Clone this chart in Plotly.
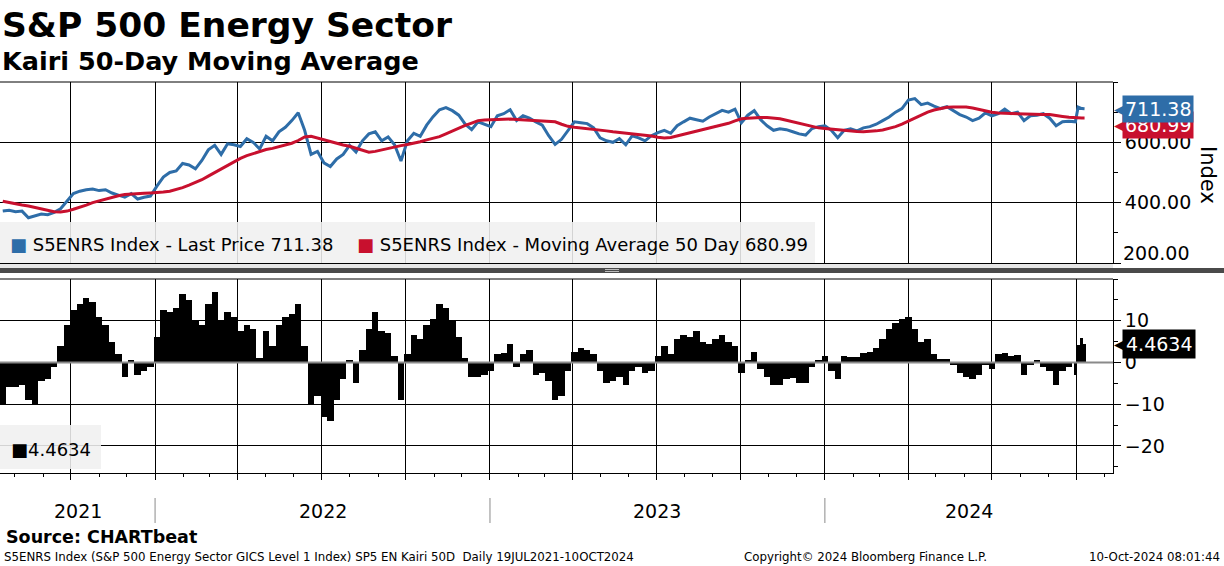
import pandas as pd
import plotly.graph_objects as go

# ---------------- data (weekly readings of the reference) ----------------
weekly = pd.date_range("2021-07-19", "2024-09-30", freq="7D")
extra = pd.to_datetime(["2024-10-03", "2024-10-07", "2024-10-10"])
dates = weekly.append(extra)

price = [
    # 2021
    372, 375,
    370, 372, 350, 355, 362,
    360, 368, 380, 405,
    430, 438, 443, 445,
    440, 443, 432, 425, 418,
    430, 412, 418, 422,
    # 2022
    455, 485, 500, 505, 530,
    525, 512, 540, 575,
    590, 560, 595, 592,
    586, 612, 600, 578,
    620, 605, 635, 650, 672,
    698, 640, 560, 570,
    532, 520, 545, 560,
    590, 568, 605, 628, 635,
    605, 618, 592, 538,
    605, 630, 620, 657, 685,
    708, 715, 705, 690,
    660, 642, 668, 660,
    # 2023
    652, 688, 695, 708, 672,
    688, 680, 668, 657,
    622, 593, 610, 640,
    668, 665, 662, 648,
    615, 605, 600, 612, 592,
    622, 615, 605, 622,
    632, 640, 630, 655, 668,
    680, 675, 670, 684,
    695, 706, 700, 710,
    665, 690, 705, 675, 655,
    640, 645, 642, 635,
    628, 624, 646, 652,
    # 2024
    655, 640, 615, 640, 645,
    638, 648, 652, 660,
    672, 684, 700, 712,
    740, 745, 725, 730, 720,
    712, 718, 705, 692,
    684, 672, 680, 698,
    688, 695, 710, 695, 700,
    672, 688, 690, 695,
    680, 655, 668, 670, 668,
    717, 712, 711.38,
]

ma50 = [
    # 2021
    405, 400,
    396, 392, 389, 384, 378,
    374, 370, 369, 372,
    378, 384, 392, 400,
    406, 411, 418, 423, 427,
    429, 430, 431, 432,
    # 2022
    433, 435, 438, 443, 450,
    458, 466, 476, 488,
    500, 512, 524, 536,
    547, 556, 563, 570,
    576, 580, 585, 591, 597,
    606, 618, 620, 614,
    608, 603, 597, 591,
    587, 580, 573, 567, 570,
    575, 580, 586, 589,
    593, 597, 602, 608, 613,
    619, 628, 638, 646,
    656, 664, 672, 674,
    # 2023
    675, 676, 676, 677, 676,
    675, 673, 671, 670,
    669, 668, 660, 653,
    650, 648, 646, 644,
    641, 638, 635, 633, 630,
    627, 625, 623, 621,
    617, 614, 616, 621, 628,
    632, 636, 641, 646,
    651, 657, 663, 671,
    678, 680, 682, 682, 682,
    681, 678, 673, 668,
    662, 657, 651, 648,
    # 2024
    646, 644, 641, 638, 637,
    636, 635, 636, 638,
    641, 646, 652, 660,
    670, 682, 692, 700, 707,
    712, 716, 717, 717,
    717, 714, 709, 705,
    700, 697, 696, 695, 694,
    693, 692, 692, 692,
    692, 690, 686, 683, 681,
    681, 681, 680.99,
]

kairi = [
    # 2021
    -10, -6,
    -6, -5.5, -9, -10, -4.5,
    -4, -1, 4, 9,
    12.5, 14, 15.5, 14.5,
    11, 9, 5, 2, -3.5,
    0.5, -3, -2, -1,
    # 2022
    6, 12.5, 12, 13, 16.5,
    15, 10, 9, 14,
    17, 10, 12, 11,
    7.5, 9, 8, 1,
    7.5, 4, 9, 11, 11.5,
    14, 4, -10, -8,
    -13, -14, -9, -4,
    0.5, -5, 3, 8, 12,
    7.5, 7, 1.5, -9,
    2, 6.5, 5.5, 9, 10.5,
    14, 13, 10, 6,
    1, -3.5, -3.5, -3,
    # 2023
    -2, 2, 2.2, 4.5, -1,
    2, 3, -3, -2.5,
    -4.5, -9, -8, -2,
    2.5, 3.5, 3, 2,
    -2, -5, -4.5, -3.5, -5.5,
    -2, -1, -2.5, -2,
    1.5, 4, 2, 5.5, 6.5,
    6, 7.5, 5, 4.5,
    5.5, 6.5, 5, 4,
    -2.5, 0.5, 2.5, -1.5, -3.5,
    -5.5, -5.5, -4, -3.8,
    -5, -5, -1, 0.5,
    # 2024
    1.5, -2, -4, 1.5, 1.2,
    1.2, 2.2, 2.5, 3.5,
    5.5, 8, 9.5, 10.5,
    11, 8, 5, 5.5, 2,
    0.8, 0.8, -0.5, -2.5,
    -3.5, -4, -3, -0.5,
    -1.5, 2, 2.2, 1.5, 1.8,
    -3, -0.5, 0.5, -1,
    -2, -5.5, -2, -1, -3,
    4.2, 5.8, 4.4634,
]

last_price = 711.38
last_ma = 680.99
last_kairi = 4.4634

price_ticks = [200, 400, 600]
price_minor = [300, 500, 700, 800]
kairi_ticks = [-20, -10, 0, 10]
kairi_minor = [-25, -15, -5, 5, 15, 20]
years = [2021, 2022, 2023, 2024]

x_start, x_end = pd.Timestamp("2021-07-16"), pd.Timestamp("2024-11-10")

# ---------------- styling ----------------
BLUE = "#2e6da8"
RED = "#c8102e"
FONT = "DejaVu Sans"
W, H = 1224, 566
ML, MR, MT, MB = 0, 111, 82, 93
PW, PH = W - ML - MR, H - MT - MB


def px_x(px):
    return (px - ML) / PW


def px_y(py):
    return (H - MB - py) / PH


# bar widths from the spacing of the dates
widths = []
for i in range(len(dates)):
    if i < len(dates) - 1:
        d = dates[i + 1] - dates[i]
    else:
        d = dates[i] - dates[i - 1]
    widths.append(d.total_seconds() * 1000)

fig = go.Figure()
fig.add_trace(go.Scatter(x=dates, y=price, mode="lines",
                         line=dict(color=BLUE, width=3), xaxis="x", yaxis="y"))
fig.add_trace(go.Scatter(x=dates, y=ma50, mode="lines",
                         line=dict(color=RED, width=3), xaxis="x", yaxis="y"))
fig.add_trace(go.Bar(x=dates, y=kairi, width=widths,
                     marker=dict(color="black", line=dict(width=0)),
                     xaxis="x2", yaxis="y2"))

top_dom = [px_y(263), 1.0]
bot_dom = [0.0, px_y(279)]

xcommon = dict(type="date", range=[x_start, x_end], showgrid=True,
               gridcolor="black", gridwidth=1, dtick="M3", tick0="2021-01-01",
               zeroline=False, showline=True, linecolor="black", linewidth=1)

# the lowest price label sits just above its tick in the reference
price_ticktext = ["" if v == min(price_ticks) else f"{v:.2f}" for v in price_ticks]

fig.update_layout(
    width=W, height=H,
    margin=dict(l=ML, r=MR, t=MT, b=MB, pad=0),
    paper_bgcolor="white", plot_bgcolor="white",
    showlegend=False, bargap=0,
    font=dict(family=FONT, color="black"),
    xaxis=dict(**xcommon, anchor="y", showticklabels=False, ticks=""),
    xaxis2=dict(**xcommon, anchor="y2", matches="x", showticklabels=False,
                ticks="outside", ticklen=6, tickcolor="black",
                minor=dict(dtick="M1", ticks="outside", ticklen=3,
                           tickcolor="black", showgrid=False)),
    yaxis=dict(domain=top_dom, side="right", range=[200, 800],
               tickmode="array", tickvals=price_ticks, ticktext=price_ticktext,
               ticks="outside", ticklen=7, tickcolor="black",
               minor=dict(tickvals=price_minor, ticks="outside", ticklen=4,
                          tickcolor="black", showgrid=False),
               showgrid=True, gridcolor="black", zeroline=False,
               showline=True, linecolor="black",
               tickfont=dict(size=19, family=FONT), anchor="x"),
    yaxis2=dict(domain=bot_dom, side="right", range=[-26.5, 20],
                tickmode="array", tickvals=kairi_ticks,
                ticks="outside", ticklen=7, tickcolor="black",
                minor=dict(tickvals=kairi_minor, ticks="outside", ticklen=4,
                           tickcolor="black", showgrid=False),
                showgrid=True, gridcolor="black", zeroline=False,
                showline=True, linecolor="black",
                tickfont=dict(size=19, family=FONT), anchor="x2"),
)

shapes = []
# top borders of both panels
shapes.append(dict(type="line", xref="paper", yref="y domain", x0=0, x1=1,
                   y0=1, y1=1, line=dict(color="black", width=1)))
shapes.append(dict(type="line", xref="paper", yref="y2 domain", x0=0, x1=1,
                   y0=1, y1=1, line=dict(color="black", width=1)))
# zero line of the Kairi panel
shapes.append(dict(type="line", xref="paper", yref="y2", x0=0, x1=1,
                   y0=0, y1=0, line=dict(color="#8a8a8a", width=2), layer="above"))
# separator between panels
shapes.append(dict(type="rect", xref="paper", yref="paper",
                   x0=px_x(0), x1=px_x(1113), y0=px_y(268), y1=px_y(264),
                   fillcolor="#e6e6e6", line=dict(width=0), layer="above"))
shapes.append(dict(type="rect", xref="paper", yref="paper",
                   x0=px_x(0), x1=px_x(W), y0=px_y(273), y1=px_y(268),
                   fillcolor="#4a4a4a", line=dict(width=0), layer="above"))
shapes.append(dict(type="line", xref="paper", yref="paper",
                   x0=px_x(605), x1=px_x(619), y0=px_y(269.5), y1=px_y(269.5),
                   line=dict(color="#bbbbbb", width=1), layer="above"))
shapes.append(dict(type="line", xref="paper", yref="paper",
                   x0=px_x(605), x1=px_x(619), y0=px_y(271.5), y1=px_y(271.5),
                   line=dict(color="#bbbbbb", width=1), layer="above"))
# legend boxes
shapes.append(dict(type="rect", xref="paper", yref="paper",
                   x0=px_x(0), x1=px_x(815), y0=px_y(263), y1=px_y(222),
                   fillcolor="rgba(240,240,240,0.88)", line=dict(width=0), layer="above"))
shapes.append(dict(type="rect", xref="paper", yref="paper",
                   x0=px_x(0), x1=px_x(101), y0=px_y(469), y1=px_y(425),
                   fillcolor="rgba(240,240,240,0.88)", line=dict(width=0), layer="above"))
# year separators
for yr in years[1:]:
    d = pd.Timestamp(f"{yr}-01-01")
    shapes.append(dict(type="line", xref="x2", yref="paper", x0=d, x1=d,
                       y0=px_y(498), y1=px_y(523),
                       line=dict(color="#8a8a8a", width=1)))
fig.update_layout(shapes=shapes)

ann = []
ann.append(dict(text="<b>S&P 500 Energy Sector</b>", x=px_x(0), y=px_y(25),
                xref="paper", yref="paper", xanchor="left", yanchor="middle",
                showarrow=False, font=dict(size=34.5, family=FONT)))
ann.append(dict(text="<b>Kairi 50-Day Moving Average</b>", x=px_x(0), y=px_y(61),
                xref="paper", yref="paper", xanchor="left", yanchor="middle",
                showarrow=False, font=dict(size=25.5, family=FONT)))
ann.append(dict(text=f"<span style='color:{BLUE}'>■</span> S5ENRS Index - Last Price {last_price:.2f}",
                x=px_x(8), y=px_y(245), xref="paper", yref="paper",
                xanchor="left", yanchor="middle", showarrow=False,
                font=dict(size=18, family=FONT)))
ann.append(dict(text=f"<span style='color:{RED}'>■</span> S5ENRS Index - Moving Average 50 Day {last_ma:.2f}",
                x=px_x(355), y=px_y(245), xref="paper", yref="paper",
                xanchor="left", yanchor="middle", showarrow=False,
                font=dict(size=18, family=FONT)))
ann.append(dict(text=f"■{last_kairi:.4f}", x=px_x(9), y=px_y(449),
                xref="paper", yref="paper", xanchor="left", yanchor="middle",
                showarrow=False, font=dict(size=18, family=FONT)))
# lowest price label, lifted above its tick
ann.append(dict(text=f"{min(price_ticks):.2f}", x=px_x(1121), y=min(price_ticks),
                xref="paper", yref="y", xanchor="left", yanchor="bottom",
                yshift=-3, showarrow=False, font=dict(size=19, family=FONT)))
# value tags on the right axis (pointer + box)
for val, col, yref, shift in [(last_ma, RED, "y", -7), (last_price, BLUE, "y", 0),
                              (last_kairi, "black", "y2", 0)]:
    ann.append(dict(text="◀", x=px_x(1112), y=val, yshift=shift, xref="paper",
                    yref=yref, xanchor="left", yanchor="middle", showarrow=False,
                    font=dict(size=17, family=FONT, color=col)))
    txt = f"{val:.4f}" if yref == "y2" else f"{val:.2f}"
    ann.append(dict(text=txt, x=px_x(1122), y=val, yshift=shift,
                    xref="paper", yref=yref, xanchor="left", yanchor="middle",
                    showarrow=False, bgcolor=col, borderpad=3 if yref == "y2" else 2,
                    font=dict(size=19, family=FONT, color="white")))
ann.append(dict(text="Index", x=px_x(1208), y=px_y(175), xref="paper", yref="paper",
                textangle=90, xanchor="center", yanchor="middle", showarrow=False,
                font=dict(size=21, family=FONT)))
# year labels, centred on the visible part of each year
for yr in years:
    a = max(pd.Timestamp(f"{yr}-01-01"), x_start)
    b = min(pd.Timestamp(f"{yr + 1}-01-01"), x_end)
    ann.append(dict(text=str(yr), x=a + (b - a) / 2, y=px_y(511), xref="x2",
                    yref="paper", xanchor="center", yanchor="middle",
                    showarrow=False, font=dict(size=19, family=FONT)))
ann.append(dict(text="<b>Source: CHARTbeat</b>", x=px_x(4), y=px_y(537),
                xref="paper", yref="paper", xanchor="left", yanchor="middle",
                showarrow=False, font=dict(size=17.5, family=FONT)))
ann.append(dict(text="S5ENRS Index (S&P 500 Energy Sector GICS Level 1 Index) SP5 EN Kairi 50D  Daily 19JUL2021-10OCT2024",
                x=px_x(2), y=px_y(557), xref="paper", yref="paper",
                xanchor="left", yanchor="middle", showarrow=False,
                font=dict(size=11.8, family=FONT)))
ann.append(dict(text="Copyright© 2024 Bloomberg Finance L.P.", x=px_x(742), y=px_y(557),
                xref="paper", yref="paper", xanchor="left", yanchor="middle",
                showarrow=False, font=dict(size=11.8, family=FONT)))
ann.append(dict(text="10-Oct-2024 08:01:44", x=px_x(1222), y=px_y(557),
                xref="paper", yref="paper", xanchor="right", yanchor="middle",
                showarrow=False, font=dict(size=11.8, family=FONT)))
fig.update_layout(annotations=ann)

fig.write_html("out.html", config={"displayModeBar": False},
               post_script="document.body.style.margin='0';document.body.style.overflow='hidden';")
